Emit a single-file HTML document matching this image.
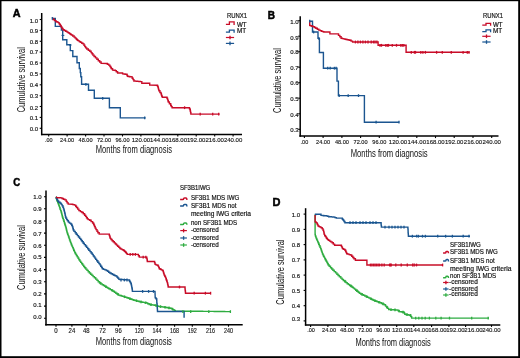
<!DOCTYPE html><html><head><meta charset="utf-8"><style>html,body{margin:0;padding:0;background:#fff;}svg{display:block;will-change:transform;}text{font-family:"Liberation Sans", sans-serif;}</style></head><body>
<svg xmlns="http://www.w3.org/2000/svg" width="520" height="358" viewBox="0 0 520 358">
<rect x="0" y="0" width="520" height="358" fill="#fff"/>
<defs><filter id="soft" x="0" y="0" width="520" height="358" filterUnits="userSpaceOnUse"><feGaussianBlur stdDeviation="0.45"/></filter></defs>
<g filter="url(#soft)">
<text x="12.8" y="16.7" font-size="10.8" text-anchor="start" font-weight="bold" fill="#000" stroke="#000" stroke-width="0.5">A</text>
<line x1="41.7" y1="13.0" x2="41.7" y2="135.2" stroke="#000" stroke-width="1.5"/>
<line x1="41.0" y1="134.5" x2="242.0" y2="134.5" stroke="#000" stroke-width="1.5"/>
<line x1="39.7" y1="128.3" x2="41.7" y2="128.3" stroke="#000" stroke-width="1.1"/>
<text x="38.0" y="130.5" font-size="6.0" text-anchor="end" font-weight="normal" fill="#111" stroke="#111" stroke-width="0.15">0.0</text>
<line x1="39.7" y1="117.4" x2="41.7" y2="117.4" stroke="#000" stroke-width="1.1"/>
<text x="38.0" y="120.0" font-size="6.0" text-anchor="end" font-weight="normal" fill="#111" stroke="#111" stroke-width="0.15">0.1</text>
<line x1="39.7" y1="106.5" x2="41.7" y2="106.5" stroke="#000" stroke-width="1.1"/>
<text x="38.0" y="110.0" font-size="6.0" text-anchor="end" font-weight="normal" fill="#111" stroke="#111" stroke-width="0.15">0.2</text>
<line x1="39.7" y1="95.7" x2="41.7" y2="95.7" stroke="#000" stroke-width="1.1"/>
<text x="38.0" y="98.2" font-size="6.0" text-anchor="end" font-weight="normal" fill="#111" stroke="#111" stroke-width="0.15">0.3</text>
<line x1="39.7" y1="84.8" x2="41.7" y2="84.8" stroke="#000" stroke-width="1.1"/>
<text x="38.0" y="86.5" font-size="6.0" text-anchor="end" font-weight="normal" fill="#111" stroke="#111" stroke-width="0.15">0.4</text>
<line x1="39.7" y1="73.9" x2="41.7" y2="73.9" stroke="#000" stroke-width="1.1"/>
<text x="38.0" y="75.9" font-size="6.0" text-anchor="end" font-weight="normal" fill="#111" stroke="#111" stroke-width="0.15">0.5</text>
<line x1="39.7" y1="63.0" x2="41.7" y2="63.0" stroke="#000" stroke-width="1.1"/>
<text x="38.0" y="65.2" font-size="6.0" text-anchor="end" font-weight="normal" fill="#111" stroke="#111" stroke-width="0.15">0.6</text>
<line x1="39.7" y1="52.1" x2="41.7" y2="52.1" stroke="#000" stroke-width="1.1"/>
<text x="38.0" y="53.9" font-size="6.0" text-anchor="end" font-weight="normal" fill="#111" stroke="#111" stroke-width="0.15">0.7</text>
<line x1="39.7" y1="41.3" x2="41.7" y2="41.3" stroke="#000" stroke-width="1.1"/>
<text x="38.0" y="43.8" font-size="6.0" text-anchor="end" font-weight="normal" fill="#111" stroke="#111" stroke-width="0.15">0.8</text>
<line x1="39.7" y1="30.4" x2="41.7" y2="30.4" stroke="#000" stroke-width="1.1"/>
<text x="38.0" y="33.0" font-size="6.0" text-anchor="end" font-weight="normal" fill="#111" stroke="#111" stroke-width="0.15">0.9</text>
<line x1="39.7" y1="19.5" x2="41.7" y2="19.5" stroke="#000" stroke-width="1.1"/>
<text x="38.0" y="22.9" font-size="6.0" text-anchor="end" font-weight="normal" fill="#111" stroke="#111" stroke-width="0.15">1.0</text>
<line x1="48.7" y1="134.5" x2="48.7" y2="136.5" stroke="#000" stroke-width="1.1"/>
<line x1="67.1" y1="134.5" x2="67.1" y2="136.5" stroke="#000" stroke-width="1.1"/>
<line x1="85.6" y1="134.5" x2="85.6" y2="136.5" stroke="#000" stroke-width="1.1"/>
<line x1="104.0" y1="134.5" x2="104.0" y2="136.5" stroke="#000" stroke-width="1.1"/>
<line x1="122.5" y1="134.5" x2="122.5" y2="136.5" stroke="#000" stroke-width="1.1"/>
<line x1="140.9" y1="134.5" x2="140.9" y2="136.5" stroke="#000" stroke-width="1.1"/>
<line x1="159.3" y1="134.5" x2="159.3" y2="136.5" stroke="#000" stroke-width="1.1"/>
<line x1="177.8" y1="134.5" x2="177.8" y2="136.5" stroke="#000" stroke-width="1.1"/>
<line x1="196.2" y1="134.5" x2="196.2" y2="136.5" stroke="#000" stroke-width="1.1"/>
<line x1="214.7" y1="134.5" x2="214.7" y2="136.5" stroke="#000" stroke-width="1.1"/>
<line x1="233.1" y1="134.5" x2="233.1" y2="136.5" stroke="#000" stroke-width="1.1"/>
<text x="48.7" y="142.2" font-size="5.6" text-anchor="middle" font-weight="normal" fill="#111" stroke="#111" stroke-width="0.12" textLength="7.6" lengthAdjust="spacingAndGlyphs">.00</text>
<text x="67.1" y="142.2" font-size="5.6" text-anchor="middle" font-weight="normal" fill="#111" stroke="#111" stroke-width="0.12" textLength="14.0" lengthAdjust="spacingAndGlyphs">24.00</text>
<text x="85.6" y="142.2" font-size="5.6" text-anchor="middle" font-weight="normal" fill="#111" stroke="#111" stroke-width="0.12" textLength="14.0" lengthAdjust="spacingAndGlyphs">48.00</text>
<text x="104.0" y="142.2" font-size="5.6" text-anchor="middle" font-weight="normal" fill="#111" stroke="#111" stroke-width="0.12" textLength="14.0" lengthAdjust="spacingAndGlyphs">72.00</text>
<text x="122.5" y="142.2" font-size="5.6" text-anchor="middle" font-weight="normal" fill="#111" stroke="#111" stroke-width="0.12" textLength="14.0" lengthAdjust="spacingAndGlyphs">96.00</text>
<text x="140.9" y="142.2" font-size="5.6" text-anchor="middle" font-weight="normal" fill="#111" stroke="#111" stroke-width="0.12" textLength="18.4" lengthAdjust="spacingAndGlyphs">120.00</text>
<text x="159.3" y="142.2" font-size="5.6" text-anchor="middle" font-weight="normal" fill="#111" stroke="#111" stroke-width="0.12" textLength="18.4" lengthAdjust="spacingAndGlyphs">144.00</text>
<text x="177.8" y="142.2" font-size="5.6" text-anchor="middle" font-weight="normal" fill="#111" stroke="#111" stroke-width="0.12" textLength="18.4" lengthAdjust="spacingAndGlyphs">168.00</text>
<text x="196.2" y="142.2" font-size="5.6" text-anchor="middle" font-weight="normal" fill="#111" stroke="#111" stroke-width="0.12" textLength="18.4" lengthAdjust="spacingAndGlyphs">192.00</text>
<text x="214.7" y="142.2" font-size="5.6" text-anchor="middle" font-weight="normal" fill="#111" stroke="#111" stroke-width="0.12" textLength="18.4" lengthAdjust="spacingAndGlyphs">216.00</text>
<text x="233.1" y="142.2" font-size="5.6" text-anchor="middle" font-weight="normal" fill="#111" stroke="#111" stroke-width="0.12" textLength="18.4" lengthAdjust="spacingAndGlyphs">240.00</text>
<text x="24.8" y="79.7" font-size="10.6" text-anchor="middle" font-weight="normal" fill="#111" textLength="65.3" lengthAdjust="spacingAndGlyphs" transform="rotate(-90 24.8 79.7)">Cumulative survival</text>
<text x="95.8" y="152.5" font-size="10.0" text-anchor="start" font-weight="normal" fill="#111" textLength="76.2" lengthAdjust="spacingAndGlyphs">Months from diagnosis</text>
<text x="226.9" y="17.8" font-size="6.7" text-anchor="start" font-weight="normal" fill="#111" stroke="#111" stroke-width="0.18" textLength="20.1" lengthAdjust="spacingAndGlyphs">RUNX1</text>
<text x="237.0" y="26.5" font-size="6.4" text-anchor="start" font-weight="normal" fill="#111" stroke="#111" stroke-width="0.18" textLength="9.6" lengthAdjust="spacingAndGlyphs">WT</text>
<text x="237.0" y="33.2" font-size="6.4" text-anchor="start" font-weight="normal" fill="#111" stroke="#111" stroke-width="0.18" textLength="9.2" lengthAdjust="spacingAndGlyphs">MT</text>
<path d="M225.9,24.3 H229.4 V21.9 H234.1 V24.9" fill="none" stroke="#c80a28" stroke-width="1.3" stroke-linejoin="miter"/>
<path d="M225.9,32.1 H229.4 V30.1 H234.1 V32.7" fill="none" stroke="#1a5590" stroke-width="1.3" stroke-linejoin="miter"/>
<line x1="225.9" y1="37.5" x2="234.1" y2="37.5" stroke="#c80a28" stroke-width="1.2"/>
<line x1="230.0" y1="35.7" x2="230.0" y2="39.3" stroke="#c80a28" stroke-width="1.3"/>
<line x1="225.9" y1="43.4" x2="234.1" y2="43.4" stroke="#1a5590" stroke-width="1.2"/>
<line x1="230.0" y1="41.6" x2="230.0" y2="45.2" stroke="#1a5590" stroke-width="1.3"/>
<path d="M52.3,18.4 H55.3 V26.4 H61.4 V30.1 H62.7 V39.7 H66.8 V44.8 H70.3 V50.6 H72.8 V56.5 H77 V62.8 H79.3 V68.5 H80.3 V72.6 H80.8 V76.8 H81.6 V84.3 H88.5 V90.2 H94.3 V98.3 H109.4 V107.8 H120.3 V117.9 H145.6" fill="none" stroke="#1a5590" stroke-width="1.4" stroke-linejoin="miter"/>
<polyline points="52.3,18.4 53.0,18.4 53.0,19.5 54.5,19.5 54.5,20.6 56.0,20.6 56.0,21.7 56.7,21.7 57.2,21.7 57.2,22.1 58.3,22.1 58.3,22.6 58.8,22.6 59.1,22.6 59.1,23.7 59.8,23.7 59.8,24.8 60.5,24.8 60.5,25.9 60.9,25.9 61.3,25.9 61.3,27.2 62.1,27.2 62.1,28.5 63.0,28.5 63.0,29.8 63.4,29.8 64.2,29.8 64.2,30.5 65.1,30.5 65.7,30.5 65.7,31.2 66.8,31.2 66.8,31.9 67.9,31.9 67.9,32.6 68.5,32.6 69.1,32.6 69.1,33.4 70.2,33.4 70.2,34.2 71.3,34.2 71.3,35.0 71.9,35.0 72.7,35.0 72.7,36.0 73.5,36.0 74.1,36.0 74.1,37.1 75.2,37.1 75.2,38.1 76.3,38.1 76.3,39.2 76.9,39.2 77.3,39.2 77.3,40.2 77.7,40.2 78.3,40.2 78.3,40.9 79.5,40.9 79.5,41.7 80.7,41.7 80.7,42.4 81.8,42.4 81.8,43.2 83.0,43.2 83.0,43.9 83.6,43.9 84.0,43.9 84.0,45.2 84.8,45.2 84.8,46.6 85.7,46.6 85.7,47.9 86.1,47.9 86.8,47.9 86.8,49.0 88.3,49.0 88.3,50.2 89.8,50.2 89.8,51.3 90.6,51.3 91.1,51.3 91.1,52.6 92.0,52.6 92.0,53.8 92.9,53.8 92.9,55.1 93.4,55.1 94.1,55.1 94.1,56.5 95.5,56.5 95.5,57.9 96.9,57.9 96.9,59.3 97.6,59.3 98.3,59.3 98.3,60.7 99.7,60.7 99.7,62.0 101.1,62.0 101.1,63.4 101.8,63.4 106.8,63.5 107.4,63.5 107.4,64.3 108.7,64.3 108.7,65.1 109.3,65.1 109.9,65.1 109.9,66.5 110.5,66.5 110.8,66.5 110.8,67.7 111.4,67.7 111.4,68.8 111.7,68.8 112.6,68.8 112.6,70.1 113.4,70.1 114.0,70.1 114.0,70.3 115.3,70.3 115.3,70.6 115.9,70.6 116.3,70.6 116.3,71.7 116.7,71.7 117.6,71.7 117.6,73.0 118.4,73.0 121.7,73.0 122.6,73.0 122.6,73.9 123.4,73.9 124.0,73.9 124.0,74.0 125.1,74.0 125.1,74.2 126.2,74.2 126.2,74.3 126.8,74.3 127.0,74.3 127.0,75.3 127.4,75.3 127.4,76.3 127.6,76.3 128.3,76.3 128.3,76.5 129.7,76.5 129.7,76.7 131.1,76.7 131.1,76.9 131.8,76.9 132.2,76.9 132.2,78.3 133.1,78.3 133.1,79.6 133.9,79.6 133.9,81.0 134.3,81.0 135.0,81.0 135.0,81.1 136.3,81.1 136.3,81.2 137.7,81.2 137.7,81.4 139.0,81.4 139.0,81.5 140.3,81.5 140.3,81.6 141.0,81.6 141.8,81.6 141.8,83.3 142.7,83.3 149.4,83.3 149.7,83.3 149.7,85.0 150.0,85.0 157.3,85.2 157.5,85.2 157.5,86.2 158.0,86.2 158.0,87.3 158.2,87.3 158.3,87.3 158.3,88.5 158.6,88.5 158.6,89.6 158.9,89.6 158.9,90.8 159.0,90.8 159.9,90.8 159.9,92.5 160.8,92.5 161.0,92.5 161.0,93.8 161.4,93.8 161.4,95.1 161.6,95.1 161.8,95.1 161.8,96.2 162.3,96.2 162.3,97.3 162.5,97.3 166.8,97.3 167.0,97.3 167.0,98.3 167.5,98.3 167.5,99.4 167.7,99.4 167.9,99.4 167.9,100.7 168.3,100.7 168.3,102.0 168.5,102.0 169.4,102.0 169.4,103.7 170.3,103.7 170.7,103.7 170.7,105.5 171.1,105.5 171.4,105.5 171.4,106.6 172.1,106.6 172.1,107.7 172.4,107.7 189.3,107.7 189.5,107.7 189.5,108.8 190.0,108.8 190.0,109.8 190.2,109.8 190.3,109.8 190.3,111.2 190.6,111.2 190.6,112.7 190.9,112.7 190.9,114.1 191.0,114.1 219.6,114.1" fill="none" stroke="#c80a28" stroke-width="1.4" stroke-linejoin="miter" stroke-linecap="butt"/>
<line x1="184.6" y1="106.3" x2="184.6" y2="109.1" stroke="#c80a28" stroke-width="1.3"/>
<line x1="200.2" y1="112.7" x2="200.2" y2="115.5" stroke="#c80a28" stroke-width="1.3"/>
<line x1="212.7" y1="112.7" x2="212.7" y2="115.5" stroke="#c80a28" stroke-width="1.3"/>
<line x1="218.7" y1="112.7" x2="218.7" y2="115.5" stroke="#c80a28" stroke-width="1.3"/>
<line x1="52.3" y1="17.0" x2="52.3" y2="19.8" stroke="#1a5590" stroke-width="1.3"/>
<line x1="85.9" y1="82.9" x2="85.9" y2="85.7" stroke="#1a5590" stroke-width="1.3"/>
<line x1="102.7" y1="96.9" x2="102.7" y2="99.7" stroke="#1a5590" stroke-width="1.3"/>
<line x1="144.7" y1="116.5" x2="144.7" y2="119.3" stroke="#1a5590" stroke-width="1.3"/>
<line x1="61.5" y1="35.4" x2="64.3" y2="35.4" stroke="#1a5590" stroke-width="1.1"/>
<line x1="69.0" y1="45.0" x2="71.6" y2="45.0" stroke="#1a5590" stroke-width="1.1"/>
<text x="267.8" y="18.9" font-size="10.0" text-anchor="start" font-weight="bold" fill="#000" stroke="#000" stroke-width="0.5">B</text>
<line x1="300.2" y1="16.2" x2="300.2" y2="136.8" stroke="#000" stroke-width="1.5"/>
<line x1="299.4" y1="136.1" x2="498.5" y2="136.1" stroke="#000" stroke-width="1.5"/>
<line x1="298.2" y1="20.7" x2="300.2" y2="20.7" stroke="#000" stroke-width="1.1"/>
<text x="298.5" y="24.0" font-size="6.0" text-anchor="end" font-weight="normal" fill="#111" stroke="#111" stroke-width="0.15">1.0</text>
<line x1="298.2" y1="36.2" x2="300.2" y2="36.2" stroke="#000" stroke-width="1.1"/>
<text x="298.5" y="40.0" font-size="6.0" text-anchor="end" font-weight="normal" fill="#111" stroke="#111" stroke-width="0.15">0.9</text>
<line x1="298.2" y1="51.7" x2="300.2" y2="51.7" stroke="#000" stroke-width="1.1"/>
<text x="298.5" y="54.3" font-size="6.0" text-anchor="end" font-weight="normal" fill="#111" stroke="#111" stroke-width="0.15">0.8</text>
<line x1="298.2" y1="67.2" x2="300.2" y2="67.2" stroke="#000" stroke-width="1.1"/>
<text x="298.5" y="70.3" font-size="6.0" text-anchor="end" font-weight="normal" fill="#111" stroke="#111" stroke-width="0.15">0.7</text>
<line x1="298.2" y1="82.7" x2="300.2" y2="82.7" stroke="#000" stroke-width="1.1"/>
<text x="298.5" y="85.4" font-size="6.0" text-anchor="end" font-weight="normal" fill="#111" stroke="#111" stroke-width="0.15">0.6</text>
<line x1="298.2" y1="98.2" x2="300.2" y2="98.2" stroke="#000" stroke-width="1.1"/>
<text x="298.5" y="100.6" font-size="6.0" text-anchor="end" font-weight="normal" fill="#111" stroke="#111" stroke-width="0.15">0.5</text>
<line x1="298.2" y1="113.8" x2="300.2" y2="113.8" stroke="#000" stroke-width="1.1"/>
<text x="298.5" y="116.7" font-size="6.0" text-anchor="end" font-weight="normal" fill="#111" stroke="#111" stroke-width="0.15">0.4</text>
<line x1="298.2" y1="129.3" x2="300.2" y2="129.3" stroke="#000" stroke-width="1.1"/>
<text x="298.5" y="131.6" font-size="6.0" text-anchor="end" font-weight="normal" fill="#111" stroke="#111" stroke-width="0.15">0.3</text>
<line x1="304.4" y1="136.1" x2="304.4" y2="138.1" stroke="#000" stroke-width="1.1"/>
<line x1="323.1" y1="136.1" x2="323.1" y2="138.1" stroke="#000" stroke-width="1.1"/>
<line x1="341.9" y1="136.1" x2="341.9" y2="138.1" stroke="#000" stroke-width="1.1"/>
<line x1="360.6" y1="136.1" x2="360.6" y2="138.1" stroke="#000" stroke-width="1.1"/>
<line x1="379.3" y1="136.1" x2="379.3" y2="138.1" stroke="#000" stroke-width="1.1"/>
<line x1="398.0" y1="136.1" x2="398.0" y2="138.1" stroke="#000" stroke-width="1.1"/>
<line x1="416.8" y1="136.1" x2="416.8" y2="138.1" stroke="#000" stroke-width="1.1"/>
<line x1="435.5" y1="136.1" x2="435.5" y2="138.1" stroke="#000" stroke-width="1.1"/>
<line x1="454.2" y1="136.1" x2="454.2" y2="138.1" stroke="#000" stroke-width="1.1"/>
<line x1="473.0" y1="136.1" x2="473.0" y2="138.1" stroke="#000" stroke-width="1.1"/>
<line x1="491.7" y1="136.1" x2="491.7" y2="138.1" stroke="#000" stroke-width="1.1"/>
<text x="304.4" y="144.4" font-size="5.6" text-anchor="middle" font-weight="normal" fill="#111" stroke="#111" stroke-width="0.12" textLength="7.6" lengthAdjust="spacingAndGlyphs">.00</text>
<text x="323.1" y="144.4" font-size="5.6" text-anchor="middle" font-weight="normal" fill="#111" stroke="#111" stroke-width="0.12" textLength="14.0" lengthAdjust="spacingAndGlyphs">24.00</text>
<text x="341.9" y="144.4" font-size="5.6" text-anchor="middle" font-weight="normal" fill="#111" stroke="#111" stroke-width="0.12" textLength="14.0" lengthAdjust="spacingAndGlyphs">48.00</text>
<text x="360.6" y="144.4" font-size="5.6" text-anchor="middle" font-weight="normal" fill="#111" stroke="#111" stroke-width="0.12" textLength="14.0" lengthAdjust="spacingAndGlyphs">72.00</text>
<text x="379.3" y="144.4" font-size="5.6" text-anchor="middle" font-weight="normal" fill="#111" stroke="#111" stroke-width="0.12" textLength="14.0" lengthAdjust="spacingAndGlyphs">96.00</text>
<text x="398.0" y="144.4" font-size="5.6" text-anchor="middle" font-weight="normal" fill="#111" stroke="#111" stroke-width="0.12" textLength="18.4" lengthAdjust="spacingAndGlyphs">120.00</text>
<text x="416.8" y="144.4" font-size="5.6" text-anchor="middle" font-weight="normal" fill="#111" stroke="#111" stroke-width="0.12" textLength="18.4" lengthAdjust="spacingAndGlyphs">144.00</text>
<text x="435.5" y="144.4" font-size="5.6" text-anchor="middle" font-weight="normal" fill="#111" stroke="#111" stroke-width="0.12" textLength="18.4" lengthAdjust="spacingAndGlyphs">168.00</text>
<text x="454.2" y="144.4" font-size="5.6" text-anchor="middle" font-weight="normal" fill="#111" stroke="#111" stroke-width="0.12" textLength="18.4" lengthAdjust="spacingAndGlyphs">192.00</text>
<text x="473.0" y="144.4" font-size="5.6" text-anchor="middle" font-weight="normal" fill="#111" stroke="#111" stroke-width="0.12" textLength="18.4" lengthAdjust="spacingAndGlyphs">216.00</text>
<text x="491.7" y="144.4" font-size="5.6" text-anchor="middle" font-weight="normal" fill="#111" stroke="#111" stroke-width="0.12" textLength="18.4" lengthAdjust="spacingAndGlyphs">240.00</text>
<text x="281.0" y="80.5" font-size="10.6" text-anchor="middle" font-weight="normal" fill="#111" textLength="64.8" lengthAdjust="spacingAndGlyphs" transform="rotate(-90 281.0 80.5)">Cumulative survival</text>
<text x="350.7" y="157.2" font-size="10.0" text-anchor="start" font-weight="normal" fill="#111" textLength="77.0" lengthAdjust="spacingAndGlyphs">Months from diagnosis</text>
<text x="483.0" y="18.4" font-size="6.7" text-anchor="start" font-weight="normal" fill="#111" stroke="#111" stroke-width="0.18" textLength="19.9" lengthAdjust="spacingAndGlyphs">RUNX1</text>
<text x="492.9" y="26.6" font-size="6.4" text-anchor="start" font-weight="normal" fill="#111" stroke="#111" stroke-width="0.18" textLength="9.5" lengthAdjust="spacingAndGlyphs">WT</text>
<text x="492.9" y="32.8" font-size="6.4" text-anchor="start" font-weight="normal" fill="#111" stroke="#111" stroke-width="0.18" textLength="9.2" lengthAdjust="spacingAndGlyphs">MT</text>
<path d="M482.3,25.1 H486.0 V23.3 H490.6 V25.7" fill="none" stroke="#c80a28" stroke-width="1.3" stroke-linejoin="miter"/>
<path d="M482.3,31.6 H486.0 V29.8 H490.6 V32.2" fill="none" stroke="#1a5590" stroke-width="1.3" stroke-linejoin="miter"/>
<line x1="482.3" y1="36.3" x2="490.6" y2="36.3" stroke="#c80a28" stroke-width="1.2"/>
<line x1="486.5" y1="34.5" x2="486.5" y2="38.1" stroke="#c80a28" stroke-width="1.3"/>
<line x1="482.3" y1="42.0" x2="490.6" y2="42.0" stroke="#1a5590" stroke-width="1.2"/>
<line x1="486.5" y1="40.2" x2="486.5" y2="43.8" stroke="#1a5590" stroke-width="1.3"/>
<path d="M309.7,21.2 H312.5 V32.0 H318.0 V38.4 H319.4 V52.5 H323.4 V68.2 H337 V81.1 H338.4 V95.6 H364.4 V122.2 H399.2" fill="none" stroke="#1a5590" stroke-width="1.4" stroke-linejoin="miter"/>
<polyline points="309.7,21.5 309.7,25.4 310.4,25.4 310.4,25.8 311.8,25.8 311.8,26.3 313.1,26.3 313.1,26.7 313.8,26.7 314.5,26.7 314.5,27.5 315.8,27.5 315.8,28.3 316.5,28.3 317.3,28.3 317.3,29.2 318.8,29.2 318.8,30.1 319.6,30.1 320.2,30.1 320.2,30.6 321.4,30.6 321.4,31.2 322.0,31.2 322.6,31.2 322.6,31.6 323.8,31.6 323.8,32.0 324.4,32.0 329.2,32.0 329.9,32.0 329.9,33.9 330.7,33.9 337.9,33.9 338.5,33.9 338.5,35.4 339.8,35.4 339.8,36.8 341.1,36.8 341.1,38.3 341.7,38.3 342.4,38.3 342.4,38.6 343.6,38.6 343.6,38.9 345.0,38.9 345.0,39.2 345.6,39.2 346.2,39.2 346.2,39.5 347.4,39.5 347.4,39.7 348.6,39.7 348.6,40.0 349.8,40.0 349.8,40.2 350.4,40.2 351.1,40.2 351.1,41.1 352.6,41.1 352.6,42.0 353.3,42.0 378.1,42.0 378.1,45.3 406.1,45.3 406.1,52.3 469.6,52.3" fill="none" stroke="#c80a28" stroke-width="1.4" stroke-linejoin="miter" stroke-linecap="butt"/>
<line x1="309.7" y1="19.8" x2="309.7" y2="22.6" stroke="#1a5590" stroke-width="1.3"/>
<line x1="313.6" y1="30.6" x2="313.6" y2="33.4" stroke="#1a5590" stroke-width="1.3"/>
<line x1="318.8" y1="37.0" x2="318.8" y2="39.8" stroke="#1a5590" stroke-width="1.3"/>
<line x1="327.7" y1="66.8" x2="327.7" y2="69.6" stroke="#1a5590" stroke-width="1.3"/>
<line x1="330.2" y1="66.8" x2="330.2" y2="69.6" stroke="#1a5590" stroke-width="1.3"/>
<line x1="334.4" y1="66.8" x2="334.4" y2="69.6" stroke="#1a5590" stroke-width="1.3"/>
<line x1="336.1" y1="66.8" x2="336.1" y2="69.6" stroke="#1a5590" stroke-width="1.3"/>
<line x1="339.2" y1="94.2" x2="339.2" y2="97.0" stroke="#1a5590" stroke-width="1.3"/>
<line x1="348.2" y1="94.2" x2="348.2" y2="97.0" stroke="#1a5590" stroke-width="1.3"/>
<line x1="358.5" y1="94.2" x2="358.5" y2="97.0" stroke="#1a5590" stroke-width="1.3"/>
<line x1="376.1" y1="120.8" x2="376.1" y2="123.6" stroke="#1a5590" stroke-width="1.3"/>
<line x1="399.0" y1="120.8" x2="399.0" y2="123.6" stroke="#1a5590" stroke-width="1.3"/>
<line x1="355.4" y1="40.6" x2="355.4" y2="43.4" stroke="#c80a28" stroke-width="1.3"/>
<line x1="357.9" y1="40.6" x2="357.9" y2="43.4" stroke="#c80a28" stroke-width="1.3"/>
<line x1="360.4" y1="40.6" x2="360.4" y2="43.4" stroke="#c80a28" stroke-width="1.3"/>
<line x1="362.9" y1="40.6" x2="362.9" y2="43.4" stroke="#c80a28" stroke-width="1.3"/>
<line x1="365.4" y1="40.6" x2="365.4" y2="43.4" stroke="#c80a28" stroke-width="1.3"/>
<line x1="368.0" y1="40.6" x2="368.0" y2="43.4" stroke="#c80a28" stroke-width="1.3"/>
<line x1="371.2" y1="40.6" x2="371.2" y2="43.4" stroke="#c80a28" stroke-width="1.3"/>
<line x1="373.5" y1="40.6" x2="373.5" y2="43.4" stroke="#c80a28" stroke-width="1.3"/>
<line x1="375.0" y1="40.6" x2="375.0" y2="43.4" stroke="#c80a28" stroke-width="1.3"/>
<line x1="376.9" y1="40.6" x2="376.9" y2="43.4" stroke="#c80a28" stroke-width="1.3"/>
<line x1="380.0" y1="43.9" x2="380.0" y2="46.7" stroke="#c80a28" stroke-width="1.3"/>
<line x1="381.5" y1="43.9" x2="381.5" y2="46.7" stroke="#c80a28" stroke-width="1.3"/>
<line x1="385.8" y1="43.9" x2="385.8" y2="46.7" stroke="#c80a28" stroke-width="1.3"/>
<line x1="387.3" y1="43.9" x2="387.3" y2="46.7" stroke="#c80a28" stroke-width="1.3"/>
<line x1="388.5" y1="43.9" x2="388.5" y2="46.7" stroke="#c80a28" stroke-width="1.3"/>
<line x1="392.3" y1="43.9" x2="392.3" y2="46.7" stroke="#c80a28" stroke-width="1.3"/>
<line x1="396.5" y1="43.9" x2="396.5" y2="46.7" stroke="#c80a28" stroke-width="1.3"/>
<line x1="400.8" y1="43.9" x2="400.8" y2="46.7" stroke="#c80a28" stroke-width="1.3"/>
<line x1="402.3" y1="43.9" x2="402.3" y2="46.7" stroke="#c80a28" stroke-width="1.3"/>
<line x1="403.8" y1="43.9" x2="403.8" y2="46.7" stroke="#c80a28" stroke-width="1.3"/>
<line x1="411.3" y1="50.9" x2="411.3" y2="53.7" stroke="#c80a28" stroke-width="1.3"/>
<line x1="414.4" y1="50.9" x2="414.4" y2="53.7" stroke="#c80a28" stroke-width="1.3"/>
<line x1="415.5" y1="50.9" x2="415.5" y2="53.7" stroke="#c80a28" stroke-width="1.3"/>
<line x1="420.8" y1="50.9" x2="420.8" y2="53.7" stroke="#c80a28" stroke-width="1.3"/>
<line x1="422.9" y1="50.9" x2="422.9" y2="53.7" stroke="#c80a28" stroke-width="1.3"/>
<line x1="425.4" y1="50.9" x2="425.4" y2="53.7" stroke="#c80a28" stroke-width="1.3"/>
<line x1="436.6" y1="50.9" x2="436.6" y2="53.7" stroke="#c80a28" stroke-width="1.3"/>
<line x1="442.3" y1="50.9" x2="442.3" y2="53.7" stroke="#c80a28" stroke-width="1.3"/>
<line x1="451.3" y1="50.9" x2="451.3" y2="53.7" stroke="#c80a28" stroke-width="1.3"/>
<line x1="463.1" y1="50.9" x2="463.1" y2="53.7" stroke="#c80a28" stroke-width="1.3"/>
<line x1="467.3" y1="50.9" x2="467.3" y2="53.7" stroke="#c80a28" stroke-width="1.3"/>
<line x1="469.0" y1="50.9" x2="469.0" y2="53.7" stroke="#c80a28" stroke-width="1.3"/>
<text x="13.2" y="185.9" font-size="11.0" text-anchor="start" font-weight="bold" fill="#000" stroke="#000" stroke-width="0.5" textLength="7.0" lengthAdjust="spacingAndGlyphs">C</text>
<line x1="46.0" y1="190.6" x2="46.0" y2="325.4" stroke="#000" stroke-width="1.5"/>
<line x1="45.2" y1="324.7" x2="242.7" y2="324.7" stroke="#000" stroke-width="1.5"/>
<line x1="44.0" y1="318.2" x2="46.0" y2="318.2" stroke="#000" stroke-width="1.1"/>
<text x="41.6" y="319.4" font-size="6.0" text-anchor="end" font-weight="normal" fill="#111" stroke="#111" stroke-width="0.15">0.0</text>
<line x1="44.0" y1="306.1" x2="46.0" y2="306.1" stroke="#000" stroke-width="1.1"/>
<text x="41.6" y="307.0" font-size="6.0" text-anchor="end" font-weight="normal" fill="#111" stroke="#111" stroke-width="0.15">0.1</text>
<line x1="44.0" y1="293.9" x2="46.0" y2="293.9" stroke="#000" stroke-width="1.1"/>
<text x="41.6" y="295.8" font-size="6.0" text-anchor="end" font-weight="normal" fill="#111" stroke="#111" stroke-width="0.15">0.2</text>
<line x1="44.0" y1="281.8" x2="46.0" y2="281.8" stroke="#000" stroke-width="1.1"/>
<text x="41.6" y="283.7" font-size="6.0" text-anchor="end" font-weight="normal" fill="#111" stroke="#111" stroke-width="0.15">0.3</text>
<line x1="44.0" y1="269.6" x2="46.0" y2="269.6" stroke="#000" stroke-width="1.1"/>
<text x="41.6" y="272.3" font-size="6.0" text-anchor="end" font-weight="normal" fill="#111" stroke="#111" stroke-width="0.15">0.4</text>
<line x1="44.0" y1="257.4" x2="46.0" y2="257.4" stroke="#000" stroke-width="1.1"/>
<text x="41.6" y="259.4" font-size="6.0" text-anchor="end" font-weight="normal" fill="#111" stroke="#111" stroke-width="0.15">0.5</text>
<line x1="44.0" y1="245.3" x2="46.0" y2="245.3" stroke="#000" stroke-width="1.1"/>
<text x="41.6" y="248.4" font-size="6.0" text-anchor="end" font-weight="normal" fill="#111" stroke="#111" stroke-width="0.15">0.6</text>
<line x1="44.0" y1="233.1" x2="46.0" y2="233.1" stroke="#000" stroke-width="1.1"/>
<text x="41.6" y="236.0" font-size="6.0" text-anchor="end" font-weight="normal" fill="#111" stroke="#111" stroke-width="0.15">0.7</text>
<line x1="44.0" y1="221.0" x2="46.0" y2="221.0" stroke="#000" stroke-width="1.1"/>
<text x="41.6" y="223.5" font-size="6.0" text-anchor="end" font-weight="normal" fill="#111" stroke="#111" stroke-width="0.15">0.8</text>
<line x1="44.0" y1="208.8" x2="46.0" y2="208.8" stroke="#000" stroke-width="1.1"/>
<text x="41.6" y="211.3" font-size="6.0" text-anchor="end" font-weight="normal" fill="#111" stroke="#111" stroke-width="0.15">0.9</text>
<line x1="44.0" y1="196.7" x2="46.0" y2="196.7" stroke="#000" stroke-width="1.1"/>
<text x="41.6" y="199.0" font-size="6.0" text-anchor="end" font-weight="normal" fill="#111" stroke="#111" stroke-width="0.15">1.0</text>
<line x1="56.0" y1="324.7" x2="56.0" y2="326.7" stroke="#000" stroke-width="1.1"/>
<line x1="71.9" y1="324.7" x2="71.9" y2="326.7" stroke="#000" stroke-width="1.1"/>
<line x1="86.3" y1="324.7" x2="86.3" y2="326.7" stroke="#000" stroke-width="1.1"/>
<line x1="102.5" y1="324.7" x2="102.5" y2="326.7" stroke="#000" stroke-width="1.1"/>
<line x1="118.4" y1="324.7" x2="118.4" y2="326.7" stroke="#000" stroke-width="1.1"/>
<line x1="139.3" y1="324.7" x2="139.3" y2="326.7" stroke="#000" stroke-width="1.1"/>
<line x1="157.1" y1="324.7" x2="157.1" y2="326.7" stroke="#000" stroke-width="1.1"/>
<line x1="174.6" y1="324.7" x2="174.6" y2="326.7" stroke="#000" stroke-width="1.1"/>
<line x1="192.3" y1="324.7" x2="192.3" y2="326.7" stroke="#000" stroke-width="1.1"/>
<line x1="210.4" y1="324.7" x2="210.4" y2="326.7" stroke="#000" stroke-width="1.1"/>
<line x1="228.5" y1="324.7" x2="228.5" y2="326.7" stroke="#000" stroke-width="1.1"/>
<text x="56.0" y="332.9" font-size="6.3" text-anchor="middle" font-weight="normal" fill="#111" stroke="#111" stroke-width="0.12" textLength="3.4" lengthAdjust="spacingAndGlyphs">0</text>
<text x="71.9" y="332.9" font-size="6.3" text-anchor="middle" font-weight="normal" fill="#111" stroke="#111" stroke-width="0.12" textLength="6.6" lengthAdjust="spacingAndGlyphs">24</text>
<text x="86.3" y="332.9" font-size="6.3" text-anchor="middle" font-weight="normal" fill="#111" stroke="#111" stroke-width="0.12" textLength="6.6" lengthAdjust="spacingAndGlyphs">48</text>
<text x="102.5" y="332.9" font-size="6.3" text-anchor="middle" font-weight="normal" fill="#111" stroke="#111" stroke-width="0.12" textLength="6.6" lengthAdjust="spacingAndGlyphs">72</text>
<text x="118.4" y="332.9" font-size="6.3" text-anchor="middle" font-weight="normal" fill="#111" stroke="#111" stroke-width="0.12" textLength="6.6" lengthAdjust="spacingAndGlyphs">96</text>
<text x="139.3" y="332.9" font-size="6.3" text-anchor="middle" font-weight="normal" fill="#111" stroke="#111" stroke-width="0.12" textLength="9.0" lengthAdjust="spacingAndGlyphs">120</text>
<text x="157.1" y="332.9" font-size="6.3" text-anchor="middle" font-weight="normal" fill="#111" stroke="#111" stroke-width="0.12" textLength="9.0" lengthAdjust="spacingAndGlyphs">144</text>
<text x="174.6" y="332.9" font-size="6.3" text-anchor="middle" font-weight="normal" fill="#111" stroke="#111" stroke-width="0.12" textLength="9.0" lengthAdjust="spacingAndGlyphs">168</text>
<text x="192.3" y="332.9" font-size="6.3" text-anchor="middle" font-weight="normal" fill="#111" stroke="#111" stroke-width="0.12" textLength="9.0" lengthAdjust="spacingAndGlyphs">192</text>
<text x="210.4" y="332.9" font-size="6.3" text-anchor="middle" font-weight="normal" fill="#111" stroke="#111" stroke-width="0.12" textLength="9.0" lengthAdjust="spacingAndGlyphs">216</text>
<text x="228.5" y="332.9" font-size="6.3" text-anchor="middle" font-weight="normal" fill="#111" stroke="#111" stroke-width="0.12" textLength="9.0" lengthAdjust="spacingAndGlyphs">240</text>
<text x="25.4" y="257.5" font-size="10.6" text-anchor="middle" font-weight="normal" fill="#111" textLength="64.8" lengthAdjust="spacingAndGlyphs" transform="rotate(-90 25.4 257.5)">Cumulative survival</text>
<text x="95.8" y="344.6" font-size="10.0" text-anchor="start" font-weight="normal" fill="#111" textLength="76.1" lengthAdjust="spacingAndGlyphs">Months from diagnosis</text>
<text x="179.9" y="189.7" font-size="6.7" text-anchor="start" font-weight="normal" fill="#111" stroke="#111" stroke-width="0.18" textLength="30.4" lengthAdjust="spacingAndGlyphs">SF3B1IWG</text>
<text x="190.9" y="200.0" font-size="6.7" text-anchor="start" font-weight="normal" fill="#111" stroke="#111" stroke-width="0.18" textLength="48.4" lengthAdjust="spacingAndGlyphs">SF3B1 MDS IWG</text>
<text x="190.9" y="207.9" font-size="6.7" text-anchor="start" font-weight="normal" fill="#111" stroke="#111" stroke-width="0.18" textLength="45.5" lengthAdjust="spacingAndGlyphs">SF3B1 MDS not</text>
<text x="190.9" y="216.4" font-size="6.7" text-anchor="start" font-weight="normal" fill="#111" stroke="#111" stroke-width="0.18" textLength="60.0" lengthAdjust="spacingAndGlyphs">meeting IWG criteria</text>
<text x="190.9" y="225.1" font-size="6.7" text-anchor="start" font-weight="normal" fill="#111" stroke="#111" stroke-width="0.18" textLength="46.3" lengthAdjust="spacingAndGlyphs">non SF3B1 MDS</text>
<text x="190.9" y="232.2" font-size="6.7" text-anchor="start" font-weight="normal" fill="#111" stroke="#111" stroke-width="0.18" textLength="27.8" lengthAdjust="spacingAndGlyphs">-censored</text>
<text x="190.9" y="239.7" font-size="6.7" text-anchor="start" font-weight="normal" fill="#111" stroke="#111" stroke-width="0.18" textLength="27.8" lengthAdjust="spacingAndGlyphs">-censored</text>
<text x="190.9" y="246.5" font-size="6.7" text-anchor="start" font-weight="normal" fill="#111" stroke="#111" stroke-width="0.18" textLength="27.8" lengthAdjust="spacingAndGlyphs">-censored</text>
<path d="M180.1,199.6 H182.7 Q183.6,199.6 183.6,198.8 Q183.6,198.0 184.5,198.0 H186.2 Q186.9,198.0 186.9,199.9" fill="none" stroke="#c80a28" stroke-width="1.5" stroke-linejoin="miter"/>
<path d="M180.1,206.1 H182.7 Q183.6,206.1 183.6,205.3 Q183.6,204.5 184.5,204.5 H186.2 Q186.9,204.5 186.9,206.4" fill="none" stroke="#1a5590" stroke-width="1.5" stroke-linejoin="miter"/>
<path d="M180.1,224.5 H182.7 Q183.6,224.5 183.6,223.7 Q183.6,222.9 184.5,222.9 H186.2 Q186.9,222.9 186.9,224.8" fill="none" stroke="#2fac40" stroke-width="1.5" stroke-linejoin="miter"/>
<line x1="180.3" y1="230.6" x2="186.9" y2="230.6" stroke="#c80a28" stroke-width="1.2"/>
<line x1="183.6" y1="228.8" x2="183.6" y2="232.4" stroke="#c80a28" stroke-width="1.3"/>
<line x1="180.3" y1="238.0" x2="186.9" y2="238.0" stroke="#1a5590" stroke-width="1.2"/>
<line x1="183.6" y1="236.2" x2="183.6" y2="239.8" stroke="#1a5590" stroke-width="1.3"/>
<line x1="180.3" y1="245.0" x2="186.9" y2="245.0" stroke="#2fac40" stroke-width="1.2"/>
<line x1="183.6" y1="243.2" x2="183.6" y2="246.8" stroke="#2fac40" stroke-width="1.3"/>
<polyline points="55.9,197.3 56.2,197.3 56.2,198.6 56.7,198.6 56.7,200.0 57.2,200.0 57.2,201.3 57.5,201.3 57.7,201.3 57.7,202.6 58.2,202.6 58.2,203.9 58.7,203.9 58.7,205.1 59.2,205.1 59.2,206.4 59.4,206.4 59.6,206.4 59.6,207.8 60.1,207.8 60.1,209.2 60.6,209.2 60.6,210.6 61.1,210.6 61.1,212.0 61.3,212.0 61.5,212.0 61.5,213.2 61.8,213.2 61.8,214.5 62.1,214.5 62.1,215.8 62.4,215.8 62.4,217.0 62.6,217.0 62.8,217.0 62.8,218.4 63.3,218.4 63.3,219.8 63.8,219.8 63.8,221.3 64.3,221.3 64.3,222.7 64.5,222.7 64.7,222.7 64.7,224.0 65.1,224.0 65.1,225.2 65.5,225.2 65.5,226.5 65.7,226.5 65.9,226.5 65.9,227.8 66.2,227.8 66.2,229.0 66.5,229.0 66.5,230.2 66.8,230.2 66.8,231.5 66.9,231.5 67.1,231.5 67.1,232.9 67.6,232.9 67.6,234.3 68.1,234.3 68.1,235.6 68.6,235.6 68.6,237.0 69.1,237.0 69.1,238.4 69.3,238.4 69.5,238.4 69.5,239.7 70.0,239.7 70.0,241.1 70.5,241.1 70.5,242.4 71.0,242.4 71.0,243.8 71.5,243.8 71.5,245.1 71.8,245.1 72.1,245.1 72.1,246.4 72.6,246.4 72.6,247.6 73.2,247.6 73.2,248.9 73.7,248.9 73.7,250.2 74.3,250.2 74.3,251.4 74.8,251.4 74.8,252.7 75.1,252.7 75.5,252.7 75.5,254.1 76.4,254.1 76.4,255.5 77.2,255.5 77.2,256.9 78.1,256.9 78.1,258.3 78.9,258.3 78.9,259.7 79.8,259.7 79.8,261.1 80.2,261.1 80.7,261.1 80.7,262.4 81.7,262.4 81.7,263.8 82.7,263.8 82.7,265.1 83.7,265.1 83.7,266.5 84.7,266.5 84.7,267.8 85.2,267.8 85.8,267.8 85.8,269.1 87.0,269.1 87.0,270.4 88.2,270.4 88.2,271.7 89.4,271.7 89.4,273.0 90.0,273.0 90.6,273.0 90.6,274.2 91.9,274.2 91.9,275.4 93.1,275.4 93.1,276.6 94.4,276.6 94.4,277.8 95.0,277.8 95.7,277.8 95.7,279.1 97.0,279.1 97.0,280.4 98.2,280.4 98.2,281.7 99.5,281.7 99.5,283.0 100.2,283.0 100.9,283.0 100.9,283.9 102.2,283.9 102.2,284.7 103.5,284.7 103.5,285.5 104.8,285.5 104.8,286.4 105.4,286.4 106.1,286.4 106.1,287.2 107.5,287.2 107.5,288.0 108.8,288.0 108.8,288.8 110.2,288.8 110.2,289.6 111.6,289.6 111.6,290.4 112.3,290.4 113.0,290.4 113.0,291.3 114.4,291.3 114.4,292.3 115.8,292.3 115.8,293.2 117.1,293.2 117.1,294.2 118.5,294.2 118.5,295.1 119.2,295.1 119.9,295.1 119.9,295.5 121.3,295.5 121.3,296.0 122.7,296.0 122.7,296.4 124.0,296.4 124.0,296.9 125.4,296.9 125.4,297.3 126.1,297.3 126.8,297.3 126.8,297.8 128.2,297.8 128.2,298.3 129.6,298.3 129.6,298.8 131.0,298.8 131.0,299.3 132.4,299.3 132.4,299.8 133.1,299.8 133.8,299.8 133.8,300.2 135.2,300.2 135.2,300.6 136.6,300.6 136.6,300.9 137.9,300.9 137.9,301.3 139.3,301.3 139.3,301.7 140.0,301.7 140.7,301.7 140.7,301.9 142.1,301.9 142.1,302.2 143.4,302.2 143.4,302.4 144.8,302.4 144.8,302.7 146.2,302.7 146.2,302.9 146.9,302.9 147.7,302.9 147.7,303.7 149.2,303.7 149.2,304.5 150.0,304.5 150.7,304.5 150.7,304.7 151.9,304.7 151.9,304.9 153.2,304.9 153.2,305.0 154.5,305.0 154.5,305.2 155.2,305.2 155.8,305.2 155.8,305.6 156.9,305.6 156.9,306.0 158.1,306.0 158.1,306.4 158.7,306.4 159.3,306.4 159.3,306.5 160.6,306.5 160.6,306.7 161.9,306.7 161.9,306.9 163.2,306.9 163.2,307.0 163.8,307.0 164.5,307.0 164.5,307.2 165.9,307.2 165.9,307.5 167.3,307.5 167.3,307.7 168.7,307.7 168.7,308.0 170.1,308.0 170.1,308.2 170.8,308.2 171.5,308.2 171.5,308.9 172.8,308.9 172.8,309.6 174.1,309.6 174.1,310.4 175.3,310.4 175.3,311.1 176.0,311.1 176.6,311.1 176.6,311.1 177.9,311.1 177.9,311.1 179.2,311.1 179.2,311.1 180.5,311.1 180.5,311.1 181.8,311.1 181.8,311.2 183.1,311.2 183.1,311.2 184.4,311.2 184.4,311.2 185.7,311.2 185.7,311.2 187.0,311.2 187.0,311.2 188.3,311.2 188.3,311.2 189.6,311.2 189.6,311.2 190.9,311.2 190.9,311.2 192.2,311.2 192.2,311.3 193.5,311.3 193.5,311.3 194.8,311.3 194.8,311.3 196.1,311.3 196.1,311.3 197.4,311.3 197.4,311.3 198.7,311.3 198.7,311.3 200.0,311.3 200.0,311.3 201.3,311.3 201.3,311.3 202.6,311.3 202.6,311.4 203.8,311.4 203.8,311.4 205.1,311.4 205.1,311.4 206.4,311.4 206.4,311.4 207.7,311.4 207.7,311.4 209.0,311.4 209.0,311.4 210.3,311.4 210.3,311.4 211.6,311.4 211.6,311.4 212.9,311.4 212.9,311.4 214.2,311.4 214.2,311.5 215.5,311.5 215.5,311.5 216.8,311.5 216.8,311.5 218.1,311.5 218.1,311.5 219.4,311.5 219.4,311.5 220.7,311.5 220.7,311.5 222.0,311.5 222.0,311.5 223.3,311.5 223.3,311.5 224.6,311.5 224.6,311.6 225.9,311.6 225.9,311.6 227.2,311.6 227.2,311.6 228.5,311.6 228.5,311.6 229.8,311.6 229.8,311.6 230.4,311.6" fill="none" stroke="#2fac40" stroke-width="1.4" stroke-linejoin="miter" stroke-linecap="butt"/>
<polyline points="55.9,197.3 56.1,197.3 56.1,197.8 56.4,197.8 56.7,197.8 56.7,199.0 57.3,199.0 57.3,200.1 57.9,200.1 57.9,201.3 58.2,201.3 58.8,201.3 58.8,202.2 60.1,202.2 60.1,203.2 60.7,203.2 61.2,203.2 61.2,204.4 62.1,204.4 62.1,205.7 62.6,205.7 62.9,205.7 62.9,207.3 63.5,207.3 63.5,208.9 63.8,208.9 64.0,208.9 64.0,210.2 64.3,210.2 64.3,211.4 64.6,211.4 64.6,212.7 64.9,212.7 64.9,213.9 65.1,213.9 65.2,213.9 65.2,215.4 65.5,215.4 65.5,217.0 65.7,217.0 66.0,217.0 66.0,218.3 66.7,218.3 66.7,219.6 67.0,219.6 67.5,219.6 67.5,220.8 68.4,220.8 68.4,222.1 68.9,222.1 69.5,222.1 69.5,223.1 70.8,223.1 70.8,224.0 71.4,224.0 71.7,224.0 71.7,225.2 72.3,225.2 72.3,226.5 72.6,226.5 72.8,226.5 72.8,227.7 73.0,227.7 73.0,228.8 73.3,228.8 73.3,230.0 73.5,230.0 74.0,230.0 74.0,231.4 75.2,231.4 75.2,232.8 76.2,232.8 76.2,234.2 76.8,234.2 77.4,234.2 77.4,235.6 78.5,235.6 78.5,237.0 79.6,237.0 79.6,238.4 80.2,238.4 80.6,238.4 80.6,239.5 81.5,239.5 81.5,240.7 82.3,240.7 82.3,241.8 82.7,241.8 83.2,241.8 83.2,243.2 84.3,243.2 84.3,244.6 85.5,244.6 85.5,246.0 86.0,246.0 86.6,246.0 86.6,247.4 87.7,247.4 87.7,248.8 88.8,248.8 88.8,250.2 89.4,250.2 90.0,250.2 90.0,251.6 91.1,251.6 91.1,253.0 92.2,253.0 92.2,254.4 92.8,254.4 93.2,254.4 93.2,255.7 94.0,255.7 94.0,256.9 94.9,256.9 94.9,258.1 95.7,258.1 95.7,259.4 96.1,259.4 96.7,259.4 96.7,260.8 97.8,260.8 97.8,262.2 98.9,262.2 98.9,263.6 99.5,263.6 99.9,263.6 99.9,264.9 100.7,264.9 100.7,266.2 101.6,266.2 101.6,267.5 102.4,267.5 102.4,268.8 102.8,268.8 103.5,268.8 103.5,269.4 104.9,269.4 104.9,269.9 106.3,269.9 106.3,270.5 107.0,270.5 107.6,270.5 107.6,271.3 108.7,271.3 108.7,272.2 109.8,272.2 109.8,273.0 110.4,273.0 111.1,273.0 111.1,273.8 112.5,273.8 112.5,274.5 113.9,274.5 113.9,275.3 114.6,275.3 115.1,275.3 115.1,275.7 116.1,275.7 116.1,276.1 116.6,276.1 117.1,276.1 117.1,277.2 118.0,277.2 118.0,278.3 118.9,278.3 118.9,279.4 119.4,279.4 120.0,279.4 120.0,279.5 121.2,279.5 121.2,279.5 122.5,279.5 122.5,279.6 123.7,279.6 123.7,279.7 124.9,279.7 124.9,279.8 126.1,279.8 126.1,279.9 127.4,279.9 127.4,279.9 128.6,279.9 128.6,280.0 129.2,280.0 129.5,280.0 129.5,281.3 130.2,281.3 130.2,282.5 130.9,282.5 130.9,283.8 131.2,283.8 131.3,283.8 131.3,285.1 131.6,285.1 131.6,286.4 131.8,286.4 131.8,287.7 132.1,287.7 132.1,289.0 132.2,289.0 132.3,289.0 132.3,290.2 132.4,290.2 132.4,291.4 132.5,291.4 155.0,291.4 155.2,297.7 155.9,297.7 155.9,298.7 156.6,298.7 156.7,298.7 156.7,300.0 156.8,300.0 156.8,301.2 156.8,301.2 156.8,302.5 156.9,302.5 156.9,303.8 157.0,303.8 157.1,303.8 157.1,305.1 157.2,305.1 157.2,306.4 157.2,306.4 157.2,307.6 157.3,307.6 157.3,308.9 157.4,308.9 157.4,310.2 157.5,310.2 157.5,311.5 157.6,311.5 184.1,311.5 184.1,317.8" fill="none" stroke="#1a5590" stroke-width="1.4" stroke-linejoin="miter" stroke-linecap="butt"/>
<polyline points="55.9,197.3 57.5,197.6 58.1,197.6 58.1,197.7 59.4,197.7 59.4,197.8 60.7,197.8 60.7,197.9 61.3,197.9 62.0,197.9 62.0,198.5 62.6,198.5 63.4,198.5 63.4,199.2 64.9,199.2 64.9,199.9 65.7,199.9 66.2,199.9 66.2,201.4 67.1,201.4 67.1,202.9 67.6,202.9 68.2,202.9 68.2,204.1 68.9,204.1 72.0,204.2 72.8,204.2 72.8,204.6 74.4,204.6 74.4,205.1 75.2,205.1 75.7,205.1 75.7,206.3 76.5,206.3 76.5,207.5 77.0,207.5 77.7,207.5 77.7,209.1 78.9,209.1 78.9,210.6 79.6,210.6 80.4,210.6 80.4,211.6 81.9,211.6 81.9,212.5 82.7,212.5 83.3,212.5 83.3,213.8 84.6,213.8 84.6,215.2 85.2,215.2 85.6,215.2 85.6,216.4 86.5,216.4 86.5,217.7 87.3,217.7 87.3,218.9 87.7,218.9 88.3,218.9 88.3,219.6 89.7,219.6 89.7,220.2 90.3,220.2 91.1,220.2 91.1,221.6 92.6,221.6 92.6,223.0 93.4,223.0 93.6,223.0 93.6,224.2 94.1,224.2 94.1,225.3 94.5,225.3 94.5,226.5 94.7,226.5 95.2,226.5 95.2,228.1 96.0,228.1 96.0,229.6 96.5,229.6 97.0,229.6 97.0,231.2 97.9,231.2 97.9,232.8 98.4,232.8 99.2,232.8 99.2,234.1 100.0,234.1 109.1,234.1 109.3,234.1 109.3,235.5 109.8,235.5 109.8,237.0 110.2,237.0 110.2,238.4 110.4,238.4 111.0,238.4 111.0,239.5 112.1,239.5 112.1,240.7 113.2,240.7 113.2,241.8 113.7,241.8 114.3,241.8 114.3,242.9 115.4,242.9 115.4,244.0 116.5,244.0 116.5,245.1 117.1,245.1 117.6,245.1 117.6,246.2 118.8,246.2 118.8,247.4 119.9,247.4 119.9,248.5 120.4,248.5 121.0,248.5 121.0,249.1 122.1,249.1 122.1,249.6 123.2,249.6 123.2,250.2 123.8,250.2 124.3,250.2 124.3,251.2 125.4,251.2 125.4,252.3 125.9,252.3 126.3,252.3 126.3,253.4 127.2,253.4 127.2,254.4 127.6,254.4 138.0,254.4 138.4,254.4 138.4,255.8 139.3,255.8 139.3,257.1 139.7,257.1 146.6,257.1 146.8,257.1 146.8,258.6 147.1,258.6 147.1,260.0 147.3,260.0 147.3,261.5 147.5,261.5 154.4,261.5 154.6,261.5 154.6,262.9 155.1,262.9 155.1,264.4 155.3,264.4 156.0,264.4 156.0,264.9 157.2,264.9 157.2,265.3 157.9,265.3 158.2,265.3 158.2,266.4 158.8,266.4 158.8,267.6 159.3,267.6 159.3,268.7 159.6,268.7 160.2,268.7 160.2,269.3 161.3,269.3 161.3,269.9 162.5,269.9 162.5,270.5 163.1,270.5 163.2,270.5 163.2,271.6 163.5,271.6 163.5,272.8 163.8,272.8 163.8,273.9 163.9,273.9 164.2,273.9 164.2,275.1 164.8,275.1 164.8,276.2 165.4,276.2 165.4,277.4 165.7,277.4 165.9,277.4 165.9,278.7 166.3,278.7 166.3,280.0 166.8,280.0 166.8,281.3 167.2,281.3 167.2,282.6 167.4,282.6 167.6,282.6 167.6,284.1 167.9,284.1 167.9,285.5 168.2,285.5 168.2,287.0 168.3,287.0 184.9,287.0 185.0,287.0 185.0,288.2 185.1,288.2 185.1,289.5 185.2,289.5 185.2,290.7 185.4,290.7 185.4,292.0 185.5,292.0 185.5,293.2 185.6,293.2 210.8,293.2" fill="none" stroke="#c80a28" stroke-width="1.4" stroke-linejoin="miter" stroke-linecap="butt"/>
<line x1="182.9" y1="310.2" x2="182.9" y2="313.0" stroke="#2fac40" stroke-width="1.3"/>
<line x1="190.7" y1="310.2" x2="190.7" y2="313.0" stroke="#2fac40" stroke-width="1.3"/>
<line x1="208.8" y1="310.2" x2="208.8" y2="313.0" stroke="#2fac40" stroke-width="1.3"/>
<line x1="230.4" y1="310.2" x2="230.4" y2="313.0" stroke="#2fac40" stroke-width="1.3"/>
<line x1="100.5" y1="281.9" x2="100.5" y2="284.5" stroke="#2fac40" stroke-width="1.4"/>
<line x1="106.0" y1="285.4" x2="106.0" y2="288.0" stroke="#2fac40" stroke-width="1.4"/>
<line x1="112.0" y1="288.9" x2="112.0" y2="291.5" stroke="#2fac40" stroke-width="1.4"/>
<line x1="118.0" y1="293.0" x2="118.0" y2="295.6" stroke="#2fac40" stroke-width="1.4"/>
<line x1="124.6" y1="295.5" x2="124.6" y2="298.1" stroke="#2fac40" stroke-width="1.4"/>
<line x1="130.0" y1="297.4" x2="130.0" y2="300.0" stroke="#2fac40" stroke-width="1.4"/>
<line x1="136.5" y1="299.4" x2="136.5" y2="302.0" stroke="#2fac40" stroke-width="1.4"/>
<line x1="141.0" y1="300.6" x2="141.0" y2="303.2" stroke="#2fac40" stroke-width="1.4"/>
<line x1="145.8" y1="301.4" x2="145.8" y2="304.0" stroke="#2fac40" stroke-width="1.4"/>
<line x1="151.0" y1="303.3" x2="151.0" y2="305.9" stroke="#2fac40" stroke-width="1.4"/>
<line x1="156.0" y1="304.2" x2="156.0" y2="306.8" stroke="#2fac40" stroke-width="1.4"/>
<line x1="160.5" y1="305.3" x2="160.5" y2="307.9" stroke="#2fac40" stroke-width="1.4"/>
<line x1="165.0" y1="305.9" x2="165.0" y2="308.5" stroke="#2fac40" stroke-width="1.4"/>
<line x1="169.0" y1="306.6" x2="169.0" y2="309.2" stroke="#2fac40" stroke-width="1.4"/>
<line x1="172.5" y1="307.8" x2="172.5" y2="310.4" stroke="#2fac40" stroke-width="1.4"/>
<line x1="121.0" y1="278.6" x2="121.0" y2="281.4" stroke="#1a5590" stroke-width="1.3"/>
<line x1="124.4" y1="278.6" x2="124.4" y2="281.4" stroke="#1a5590" stroke-width="1.3"/>
<line x1="127.0" y1="278.6" x2="127.0" y2="281.4" stroke="#1a5590" stroke-width="1.3"/>
<line x1="142.6" y1="290.0" x2="142.6" y2="292.8" stroke="#1a5590" stroke-width="1.3"/>
<line x1="148.6" y1="290.0" x2="148.6" y2="292.8" stroke="#1a5590" stroke-width="1.3"/>
<line x1="153.5" y1="290.0" x2="153.5" y2="292.8" stroke="#1a5590" stroke-width="1.3"/>
<line x1="130.2" y1="253.0" x2="130.2" y2="255.8" stroke="#c80a28" stroke-width="1.3"/>
<line x1="132.8" y1="253.0" x2="132.8" y2="255.8" stroke="#c80a28" stroke-width="1.3"/>
<line x1="135.4" y1="253.0" x2="135.4" y2="255.8" stroke="#c80a28" stroke-width="1.3"/>
<line x1="143.2" y1="255.7" x2="143.2" y2="258.5" stroke="#c80a28" stroke-width="1.3"/>
<line x1="145.8" y1="255.7" x2="145.8" y2="258.5" stroke="#c80a28" stroke-width="1.3"/>
<line x1="179.5" y1="285.6" x2="179.5" y2="288.4" stroke="#c80a28" stroke-width="1.3"/>
<line x1="194.2" y1="291.8" x2="194.2" y2="294.6" stroke="#c80a28" stroke-width="1.3"/>
<line x1="205.4" y1="291.8" x2="205.4" y2="294.6" stroke="#c80a28" stroke-width="1.3"/>
<line x1="210.6" y1="291.8" x2="210.6" y2="294.6" stroke="#c80a28" stroke-width="1.3"/>
<text x="272.6" y="205.9" font-size="11.0" text-anchor="start" font-weight="bold" fill="#000" stroke="#000" stroke-width="0.5">D</text>
<line x1="305.6" y1="208.2" x2="305.6" y2="325.6" stroke="#000" stroke-width="1.5"/>
<line x1="304.9" y1="324.9" x2="500.3" y2="324.9" stroke="#000" stroke-width="1.5"/>
<line x1="303.6" y1="214.1" x2="305.6" y2="214.1" stroke="#000" stroke-width="1.1"/>
<text x="300.1" y="216.6" font-size="6.0" text-anchor="end" font-weight="normal" fill="#111" stroke="#111" stroke-width="0.15">1.0</text>
<line x1="303.6" y1="229.4" x2="305.6" y2="229.4" stroke="#000" stroke-width="1.1"/>
<text x="300.1" y="232.0" font-size="6.0" text-anchor="end" font-weight="normal" fill="#111" stroke="#111" stroke-width="0.15">0.9</text>
<line x1="303.6" y1="244.6" x2="305.6" y2="244.6" stroke="#000" stroke-width="1.1"/>
<text x="300.1" y="247.2" font-size="6.0" text-anchor="end" font-weight="normal" fill="#111" stroke="#111" stroke-width="0.15">0.8</text>
<line x1="303.6" y1="259.9" x2="305.6" y2="259.9" stroke="#000" stroke-width="1.1"/>
<text x="300.1" y="262.0" font-size="6.0" text-anchor="end" font-weight="normal" fill="#111" stroke="#111" stroke-width="0.15">0.7</text>
<line x1="303.6" y1="275.1" x2="305.6" y2="275.1" stroke="#000" stroke-width="1.1"/>
<text x="300.1" y="277.7" font-size="6.0" text-anchor="end" font-weight="normal" fill="#111" stroke="#111" stroke-width="0.15">0.6</text>
<line x1="303.6" y1="290.4" x2="305.6" y2="290.4" stroke="#000" stroke-width="1.1"/>
<text x="300.1" y="292.8" font-size="6.0" text-anchor="end" font-weight="normal" fill="#111" stroke="#111" stroke-width="0.15">0.5</text>
<line x1="303.6" y1="305.7" x2="305.6" y2="305.7" stroke="#000" stroke-width="1.1"/>
<text x="300.1" y="307.8" font-size="6.0" text-anchor="end" font-weight="normal" fill="#111" stroke="#111" stroke-width="0.15">0.4</text>
<line x1="303.6" y1="320.9" x2="305.6" y2="320.9" stroke="#000" stroke-width="1.1"/>
<text x="300.1" y="321.3" font-size="6.0" text-anchor="end" font-weight="normal" fill="#111" stroke="#111" stroke-width="0.15">0.3</text>
<line x1="310.6" y1="324.9" x2="310.6" y2="326.9" stroke="#000" stroke-width="1.1"/>
<line x1="327.9" y1="324.9" x2="327.9" y2="326.9" stroke="#000" stroke-width="1.1"/>
<line x1="345.4" y1="324.9" x2="345.4" y2="326.9" stroke="#000" stroke-width="1.1"/>
<line x1="362.3" y1="324.9" x2="362.3" y2="326.9" stroke="#000" stroke-width="1.1"/>
<line x1="379.6" y1="324.9" x2="379.6" y2="326.9" stroke="#000" stroke-width="1.1"/>
<line x1="396.7" y1="324.9" x2="396.7" y2="326.9" stroke="#000" stroke-width="1.1"/>
<line x1="413.8" y1="324.9" x2="413.8" y2="326.9" stroke="#000" stroke-width="1.1"/>
<line x1="431.6" y1="324.9" x2="431.6" y2="326.9" stroke="#000" stroke-width="1.1"/>
<line x1="448.9" y1="324.9" x2="448.9" y2="326.9" stroke="#000" stroke-width="1.1"/>
<line x1="465.6" y1="324.9" x2="465.6" y2="326.9" stroke="#000" stroke-width="1.1"/>
<line x1="491.5" y1="324.9" x2="491.5" y2="326.9" stroke="#000" stroke-width="1.1"/>
<text x="311.0" y="332.1" font-size="5.6" text-anchor="middle" font-weight="normal" fill="#111" stroke="#111" stroke-width="0.12" textLength="7.6" lengthAdjust="spacingAndGlyphs">.00</text>
<text x="329.1" y="332.1" font-size="5.6" text-anchor="middle" font-weight="normal" fill="#111" stroke="#111" stroke-width="0.12" textLength="14.0" lengthAdjust="spacingAndGlyphs">24.00</text>
<text x="347.1" y="332.1" font-size="5.6" text-anchor="middle" font-weight="normal" fill="#111" stroke="#111" stroke-width="0.12" textLength="14.0" lengthAdjust="spacingAndGlyphs">48.00</text>
<text x="365.1" y="332.1" font-size="5.6" text-anchor="middle" font-weight="normal" fill="#111" stroke="#111" stroke-width="0.12" textLength="14.0" lengthAdjust="spacingAndGlyphs">72.00</text>
<text x="383.2" y="332.1" font-size="5.6" text-anchor="middle" font-weight="normal" fill="#111" stroke="#111" stroke-width="0.12" textLength="14.0" lengthAdjust="spacingAndGlyphs">96.00</text>
<text x="401.2" y="332.1" font-size="5.6" text-anchor="middle" font-weight="normal" fill="#111" stroke="#111" stroke-width="0.12" textLength="18.4" lengthAdjust="spacingAndGlyphs">120.00</text>
<text x="419.3" y="332.1" font-size="5.6" text-anchor="middle" font-weight="normal" fill="#111" stroke="#111" stroke-width="0.12" textLength="18.4" lengthAdjust="spacingAndGlyphs">144.00</text>
<text x="437.4" y="332.1" font-size="5.6" text-anchor="middle" font-weight="normal" fill="#111" stroke="#111" stroke-width="0.12" textLength="18.4" lengthAdjust="spacingAndGlyphs">168.00</text>
<text x="455.4" y="332.1" font-size="5.6" text-anchor="middle" font-weight="normal" fill="#111" stroke="#111" stroke-width="0.12" textLength="18.4" lengthAdjust="spacingAndGlyphs">192.00</text>
<text x="473.5" y="332.1" font-size="5.6" text-anchor="middle" font-weight="normal" fill="#111" stroke="#111" stroke-width="0.12" textLength="18.4" lengthAdjust="spacingAndGlyphs">216.00</text>
<text x="491.5" y="332.1" font-size="5.6" text-anchor="middle" font-weight="normal" fill="#111" stroke="#111" stroke-width="0.12" textLength="18.4" lengthAdjust="spacingAndGlyphs">240.00</text>
<text x="283.6" y="272.1" font-size="10.6" text-anchor="middle" font-weight="normal" fill="#111" textLength="65.2" lengthAdjust="spacingAndGlyphs" transform="rotate(-90 283.6 272.1)">Cumulative survival</text>
<text x="355.4" y="346.2" font-size="10.0" text-anchor="start" font-weight="normal" fill="#111" textLength="75.4" lengthAdjust="spacingAndGlyphs">Months from diagnosis</text>
<text x="450.0" y="247.0" font-size="6.7" text-anchor="start" font-weight="normal" fill="#111" stroke="#111" stroke-width="0.18" textLength="30.8" lengthAdjust="spacingAndGlyphs">SF3B1IWG</text>
<text x="450.0" y="254.1" font-size="6.7" text-anchor="start" font-weight="normal" fill="#111" stroke="#111" stroke-width="0.18" textLength="47.7" lengthAdjust="spacingAndGlyphs">SF3B1 MDS IWG</text>
<text x="450.0" y="262.9" font-size="6.7" text-anchor="start" font-weight="normal" fill="#111" stroke="#111" stroke-width="0.18" textLength="44.6" lengthAdjust="spacingAndGlyphs">SF3B1 MDS not</text>
<text x="450.0" y="270.6" font-size="6.7" text-anchor="start" font-weight="normal" fill="#111" stroke="#111" stroke-width="0.18" textLength="61.5" lengthAdjust="spacingAndGlyphs">meeting IWG  criteria</text>
<text x="450.0" y="278.2" font-size="6.7" text-anchor="start" font-weight="normal" fill="#111" stroke="#111" stroke-width="0.18" textLength="46.2" lengthAdjust="spacingAndGlyphs">non SF3B1 MDS</text>
<text x="449.1" y="284.3" font-size="6.7" text-anchor="start" font-weight="normal" fill="#111" stroke="#111" stroke-width="0.18" textLength="28.7" lengthAdjust="spacingAndGlyphs">-censored</text>
<text x="449.1" y="290.7" font-size="6.7" text-anchor="start" font-weight="normal" fill="#111" stroke="#111" stroke-width="0.18" textLength="28.7" lengthAdjust="spacingAndGlyphs">-censored</text>
<text x="449.1" y="296.4" font-size="6.7" text-anchor="start" font-weight="normal" fill="#111" stroke="#111" stroke-width="0.18" textLength="28.7" lengthAdjust="spacingAndGlyphs">-censored</text>
<path d="M443.1,253.0 H445.0 Q445.9,253.0 445.9,252.2 Q445.9,251.5 446.8,251.5 H447.8 Q448.5,251.5 448.5,253.3" fill="none" stroke="#c80a28" stroke-width="1.5" stroke-linejoin="miter"/>
<path d="M443.1,261.1 H445.0 Q445.9,261.1 445.9,260.4 Q445.9,259.6 446.8,259.6 H447.8 Q448.5,259.6 448.5,261.4" fill="none" stroke="#1a5590" stroke-width="1.5" stroke-linejoin="miter"/>
<path d="M443.1,277.7 H445.0 Q445.9,277.7 445.9,276.9 Q445.9,276.2 446.8,276.2 H447.8 Q448.5,276.2 448.5,278.0" fill="none" stroke="#2fac40" stroke-width="1.5" stroke-linejoin="miter"/>
<line x1="443.1" y1="282.5" x2="448.6" y2="282.5" stroke="#c80a28" stroke-width="1.2"/>
<line x1="445.9" y1="280.7" x2="445.9" y2="284.3" stroke="#c80a28" stroke-width="1.3"/>
<line x1="443.1" y1="289.0" x2="448.6" y2="289.0" stroke="#1a5590" stroke-width="1.2"/>
<line x1="445.9" y1="287.2" x2="445.9" y2="290.8" stroke="#1a5590" stroke-width="1.3"/>
<line x1="443.1" y1="295.0" x2="448.6" y2="295.0" stroke="#2fac40" stroke-width="1.2"/>
<line x1="445.9" y1="293.2" x2="445.9" y2="296.8" stroke="#2fac40" stroke-width="1.3"/>
<polyline points="315.1,214.5 315.1,234.4 315.3,234.4 315.3,235.7 315.7,235.7 315.7,236.9 315.9,236.9 316.1,236.9 316.1,238.1 316.6,238.1 316.6,239.3 317.1,239.3 317.1,240.4 317.6,240.4 317.6,241.6 318.1,241.6 318.1,242.8 318.4,242.8 318.7,242.8 318.7,244.2 319.3,244.2 319.3,245.7 320.0,245.7 320.0,247.2 320.6,247.2 320.6,248.6 320.9,248.6 321.1,248.6 321.1,249.9 321.5,249.9 321.5,251.1 322.0,251.1 322.0,252.4 322.4,252.4 322.4,253.7 322.6,253.7 322.9,253.7 322.9,254.9 323.5,254.9 323.5,256.2 324.2,256.2 324.2,257.4 324.8,257.4 324.8,258.7 325.1,258.7 325.5,258.7 325.5,260.0 326.2,260.0 326.2,261.2 326.9,261.2 326.9,262.5 327.6,262.5 327.6,263.7 328.2,263.7 328.2,265.0 328.6,265.0 329.2,265.0 329.2,266.3 330.5,266.3 330.5,267.7 331.7,267.7 331.7,269.0 332.3,269.0 332.9,269.0 332.9,270.3 334.2,270.3 334.2,271.6 335.6,271.6 335.6,272.9 336.9,272.9 336.9,274.2 337.5,274.2 338.1,274.2 338.1,275.5 339.4,275.5 339.4,276.8 340.8,276.8 340.8,278.1 342.1,278.1 342.1,279.4 342.7,279.4 343.3,279.4 343.3,280.5 344.6,280.5 344.6,281.5 345.9,281.5 345.9,282.6 347.2,282.6 347.2,283.7 347.9,283.7 348.5,283.7 348.5,284.6 349.7,284.6 349.7,285.5 350.9,285.5 350.9,286.3 352.1,286.3 352.1,287.2 353.3,287.2 353.3,288.1 353.9,288.1 354.5,288.1 354.5,289.1 355.7,289.1 355.7,290.2 356.9,290.2 356.9,291.2 358.2,291.2 358.2,292.3 359.4,292.3 359.4,293.3 360.0,293.3 360.7,293.3 360.7,294.0 362.1,294.0 362.1,294.7 363.4,294.7 363.4,295.3 364.8,295.3 364.8,296.0 366.2,296.0 366.2,296.7 366.9,296.7 367.6,296.7 367.6,297.4 369.0,297.4 369.0,298.1 370.4,298.1 370.4,298.8 371.7,298.8 371.7,299.5 373.1,299.5 373.1,300.2 373.8,300.2 374.5,300.2 374.5,300.7 375.9,300.7 375.9,301.2 377.2,301.2 377.2,301.8 378.6,301.8 378.6,302.3 380.0,302.3 380.0,302.8 380.7,302.8 381.4,302.8 381.4,303.5 382.9,303.5 382.9,304.1 384.3,304.1 384.3,304.8 385.0,304.8 385.5,304.8 385.5,306.1 386.6,306.1 386.6,307.3 387.1,307.3 387.6,307.3 387.6,308.4 388.7,308.4 388.7,309.5 389.2,309.5 389.8,309.5 389.8,309.6 391.0,309.6 391.0,309.7 392.2,309.7 392.2,309.8 393.4,309.8 393.4,309.8 394.7,309.8 394.7,309.9 395.9,309.9 395.9,310.0 397.1,310.0 397.1,310.1 397.7,310.1 398.2,310.1 398.2,310.9 399.3,310.9 399.3,311.6 399.8,311.6 400.5,311.6 400.5,311.8 401.9,311.8 401.9,312.0 403.3,312.0 403.3,312.2 404.0,312.2 404.3,312.2 404.3,313.2 404.8,313.2 404.8,314.3 405.1,314.3 405.8,314.3 405.8,314.5 407.1,314.5 407.1,314.8 408.4,314.8 408.4,315.0 409.7,315.0 409.7,315.2 410.4,315.2 410.8,315.2 410.8,316.6 411.7,316.6 411.7,318.1 412.1,318.1 488.9,318.1" fill="none" stroke="#2fac40" stroke-width="1.4" stroke-linejoin="miter" stroke-linecap="butt"/>
<polyline points="315.1,215.1 315.5,215.1 315.5,214.2 315.9,214.2 320.1,214.2 321.0,214.2 321.0,215.4 321.8,215.4 322.4,215.4 322.4,215.5 323.7,215.5 323.7,215.7 324.9,215.7 324.9,215.8 326.2,215.8 326.2,215.9 326.8,215.9 327.4,215.9 327.4,216.3 328.7,216.3 328.7,216.7 329.3,216.7 329.9,216.7 329.9,216.8 331.2,216.8 331.2,216.9 332.5,216.9 332.5,217.0 333.8,217.0 333.8,217.1 334.4,217.1 335.0,217.1 335.0,217.6 336.3,217.6 336.3,218.1 336.9,218.1 341.9,218.1 342.3,218.1 342.3,219.2 343.2,219.2 343.2,220.3 343.6,220.3 344.0,220.3 344.0,221.5 344.9,221.5 344.9,222.7 345.3,222.7 381.0,222.7 381.1,222.7 381.1,224.2 381.2,224.2 381.2,225.6 381.4,225.6 381.4,227.1 381.5,227.1 407.9,227.1 407.9,227.1 407.9,228.4 408.0,228.4 408.0,229.7 408.1,229.7 408.1,231.0 408.1,231.0 408.1,232.3 408.2,232.3 408.2,233.6 408.3,233.6 408.3,234.9 408.4,234.9 408.4,236.2 408.4,236.2 470.0,236.2" fill="none" stroke="#1a5590" stroke-width="1.4" stroke-linejoin="miter" stroke-linecap="butt"/>
<polyline points="315.1,215.1 315.1,221.8 315.9,221.8 315.9,222.6 316.7,222.6 317.0,222.6 317.0,223.7 317.5,223.7 317.5,224.9 318.1,224.9 318.1,226.0 318.4,226.0 319.0,226.0 319.0,226.6 320.1,226.6 320.1,227.1 321.2,227.1 321.2,227.7 321.8,227.7 322.2,227.7 322.2,228.9 323.1,228.9 323.1,230.2 323.5,230.2 323.6,230.2 323.6,231.6 323.9,231.6 323.9,233.0 324.2,233.0 324.2,234.4 324.3,234.4 324.7,234.4 324.7,235.7 325.6,235.7 325.6,236.9 326.0,236.9 326.4,236.9 326.4,238.2 327.3,238.2 327.3,239.4 327.7,239.4 328.3,239.4 328.3,240.2 329.6,240.2 329.6,241.1 330.2,241.1 330.8,241.1 330.8,241.9 332.1,241.9 332.1,242.8 332.7,242.8 333.3,242.8 333.3,244.1 334.6,244.1 334.6,245.3 335.2,245.3 341.1,245.3 341.4,245.3 341.4,246.4 342.0,246.4 342.0,247.5 342.5,247.5 342.5,248.6 342.8,248.6 343.4,248.6 343.4,249.3 344.7,249.3 344.7,250.0 345.3,250.0 345.6,250.0 345.6,251.2 346.1,251.2 346.1,252.5 346.7,252.5 346.7,253.7 347.0,253.7 347.7,253.7 347.7,254.1 349.1,254.1 349.1,254.6 350.4,254.6 350.4,255.0 351.1,255.0 351.7,255.0 351.7,256.2 352.8,256.2 352.8,257.5 353.9,257.5 353.9,258.7 354.5,258.7 355.4,258.7 355.4,260.2 356.2,260.2 366.9,260.2 366.9,265.0 442.6,265.0" fill="none" stroke="#c80a28" stroke-width="1.4" stroke-linejoin="miter" stroke-linecap="butt"/>
<line x1="415.7" y1="316.7" x2="415.7" y2="319.5" stroke="#2fac40" stroke-width="1.3"/>
<line x1="418.8" y1="316.7" x2="418.8" y2="319.5" stroke="#2fac40" stroke-width="1.3"/>
<line x1="422.0" y1="316.7" x2="422.0" y2="319.5" stroke="#2fac40" stroke-width="1.3"/>
<line x1="425.2" y1="316.7" x2="425.2" y2="319.5" stroke="#2fac40" stroke-width="1.3"/>
<line x1="429.4" y1="316.7" x2="429.4" y2="319.5" stroke="#2fac40" stroke-width="1.3"/>
<line x1="435.8" y1="316.7" x2="435.8" y2="319.5" stroke="#2fac40" stroke-width="1.3"/>
<line x1="441.1" y1="316.7" x2="441.1" y2="319.5" stroke="#2fac40" stroke-width="1.3"/>
<line x1="449.5" y1="316.7" x2="449.5" y2="319.5" stroke="#2fac40" stroke-width="1.3"/>
<line x1="471.7" y1="316.7" x2="471.7" y2="319.5" stroke="#2fac40" stroke-width="1.3"/>
<line x1="488.2" y1="316.7" x2="488.2" y2="319.5" stroke="#2fac40" stroke-width="1.3"/>
<line x1="345.0" y1="280.0" x2="345.0" y2="282.6" stroke="#2fac40" stroke-width="1.4"/>
<line x1="351.0" y1="284.7" x2="351.0" y2="287.3" stroke="#2fac40" stroke-width="1.4"/>
<line x1="357.0" y1="289.4" x2="357.0" y2="292.0" stroke="#2fac40" stroke-width="1.4"/>
<line x1="362.0" y1="293.0" x2="362.0" y2="295.6" stroke="#2fac40" stroke-width="1.4"/>
<line x1="367.0" y1="295.5" x2="367.0" y2="298.1" stroke="#2fac40" stroke-width="1.4"/>
<line x1="371.0" y1="297.5" x2="371.0" y2="300.1" stroke="#2fac40" stroke-width="1.4"/>
<line x1="375.0" y1="299.4" x2="375.0" y2="302.0" stroke="#2fac40" stroke-width="1.4"/>
<line x1="379.0" y1="300.9" x2="379.0" y2="303.5" stroke="#2fac40" stroke-width="1.4"/>
<line x1="383.0" y1="302.6" x2="383.0" y2="305.2" stroke="#2fac40" stroke-width="1.4"/>
<line x1="387.0" y1="305.9" x2="387.0" y2="308.5" stroke="#2fac40" stroke-width="1.4"/>
<line x1="391.0" y1="308.3" x2="391.0" y2="310.9" stroke="#2fac40" stroke-width="1.4"/>
<line x1="395.0" y1="308.6" x2="395.0" y2="311.2" stroke="#2fac40" stroke-width="1.4"/>
<line x1="399.0" y1="309.7" x2="399.0" y2="312.3" stroke="#2fac40" stroke-width="1.4"/>
<line x1="403.0" y1="310.8" x2="403.0" y2="313.4" stroke="#2fac40" stroke-width="1.4"/>
<line x1="407.0" y1="313.3" x2="407.0" y2="315.9" stroke="#2fac40" stroke-width="1.4"/>
<line x1="410.5" y1="314.1" x2="410.5" y2="316.7" stroke="#2fac40" stroke-width="1.4"/>
<line x1="412.4" y1="234.8" x2="412.4" y2="237.6" stroke="#1a5590" stroke-width="1.3"/>
<line x1="416.7" y1="234.8" x2="416.7" y2="237.6" stroke="#1a5590" stroke-width="1.3"/>
<line x1="418.4" y1="234.8" x2="418.4" y2="237.6" stroke="#1a5590" stroke-width="1.3"/>
<line x1="422.5" y1="234.8" x2="422.5" y2="237.6" stroke="#1a5590" stroke-width="1.3"/>
<line x1="425.4" y1="234.8" x2="425.4" y2="237.6" stroke="#1a5590" stroke-width="1.3"/>
<line x1="437.7" y1="234.8" x2="437.7" y2="237.6" stroke="#1a5590" stroke-width="1.3"/>
<line x1="445.6" y1="234.8" x2="445.6" y2="237.6" stroke="#1a5590" stroke-width="1.3"/>
<line x1="452.4" y1="234.8" x2="452.4" y2="237.6" stroke="#1a5590" stroke-width="1.3"/>
<line x1="463.2" y1="234.8" x2="463.2" y2="237.6" stroke="#1a5590" stroke-width="1.3"/>
<line x1="469.0" y1="234.8" x2="469.0" y2="237.6" stroke="#1a5590" stroke-width="1.3"/>
<line x1="350.0" y1="221.3" x2="350.0" y2="224.1" stroke="#1a5590" stroke-width="1.3"/>
<line x1="353.0" y1="221.3" x2="353.0" y2="224.1" stroke="#1a5590" stroke-width="1.3"/>
<line x1="356.0" y1="221.3" x2="356.0" y2="224.1" stroke="#1a5590" stroke-width="1.3"/>
<line x1="360.0" y1="221.3" x2="360.0" y2="224.1" stroke="#1a5590" stroke-width="1.3"/>
<line x1="363.0" y1="221.3" x2="363.0" y2="224.1" stroke="#1a5590" stroke-width="1.3"/>
<line x1="366.0" y1="221.3" x2="366.0" y2="224.1" stroke="#1a5590" stroke-width="1.3"/>
<line x1="370.0" y1="221.3" x2="370.0" y2="224.1" stroke="#1a5590" stroke-width="1.3"/>
<line x1="373.0" y1="221.3" x2="373.0" y2="224.1" stroke="#1a5590" stroke-width="1.3"/>
<line x1="376.0" y1="221.3" x2="376.0" y2="224.1" stroke="#1a5590" stroke-width="1.3"/>
<line x1="385.0" y1="225.7" x2="385.0" y2="228.5" stroke="#1a5590" stroke-width="1.3"/>
<line x1="389.0" y1="225.7" x2="389.0" y2="228.5" stroke="#1a5590" stroke-width="1.3"/>
<line x1="392.0" y1="225.7" x2="392.0" y2="228.5" stroke="#1a5590" stroke-width="1.3"/>
<line x1="395.0" y1="225.7" x2="395.0" y2="228.5" stroke="#1a5590" stroke-width="1.3"/>
<line x1="398.0" y1="225.7" x2="398.0" y2="228.5" stroke="#1a5590" stroke-width="1.3"/>
<line x1="401.0" y1="225.7" x2="401.0" y2="228.5" stroke="#1a5590" stroke-width="1.3"/>
<line x1="404.0" y1="225.7" x2="404.0" y2="228.5" stroke="#1a5590" stroke-width="1.3"/>
<line x1="370.4" y1="263.6" x2="370.4" y2="266.4" stroke="#c80a28" stroke-width="1.3"/>
<line x1="371.9" y1="263.6" x2="371.9" y2="266.4" stroke="#c80a28" stroke-width="1.3"/>
<line x1="373.5" y1="263.6" x2="373.5" y2="266.4" stroke="#c80a28" stroke-width="1.3"/>
<line x1="375.0" y1="263.6" x2="375.0" y2="266.4" stroke="#c80a28" stroke-width="1.3"/>
<line x1="376.5" y1="263.6" x2="376.5" y2="266.4" stroke="#c80a28" stroke-width="1.3"/>
<line x1="378.1" y1="263.6" x2="378.1" y2="266.4" stroke="#c80a28" stroke-width="1.3"/>
<line x1="379.6" y1="263.6" x2="379.6" y2="266.4" stroke="#c80a28" stroke-width="1.3"/>
<line x1="381.9" y1="263.6" x2="381.9" y2="266.4" stroke="#c80a28" stroke-width="1.3"/>
<line x1="384.2" y1="263.6" x2="384.2" y2="266.4" stroke="#c80a28" stroke-width="1.3"/>
<line x1="389.6" y1="263.6" x2="389.6" y2="266.4" stroke="#c80a28" stroke-width="1.3"/>
<line x1="390.4" y1="263.6" x2="390.4" y2="266.4" stroke="#c80a28" stroke-width="1.3"/>
<line x1="391.2" y1="263.6" x2="391.2" y2="266.4" stroke="#c80a28" stroke-width="1.3"/>
<line x1="395.8" y1="263.6" x2="395.8" y2="266.4" stroke="#c80a28" stroke-width="1.3"/>
<line x1="401.2" y1="263.6" x2="401.2" y2="266.4" stroke="#c80a28" stroke-width="1.3"/>
<line x1="407.3" y1="263.6" x2="407.3" y2="266.4" stroke="#c80a28" stroke-width="1.3"/>
<line x1="412.7" y1="263.6" x2="412.7" y2="266.4" stroke="#c80a28" stroke-width="1.3"/>
<line x1="414.2" y1="263.6" x2="414.2" y2="266.4" stroke="#c80a28" stroke-width="1.3"/>
<line x1="416.5" y1="263.6" x2="416.5" y2="266.4" stroke="#c80a28" stroke-width="1.3"/>
<line x1="442.6" y1="263.6" x2="442.6" y2="266.4" stroke="#c80a28" stroke-width="1.3"/>
</g>
<rect x="0" y="0" width="520" height="1.2" fill="#000"/>
<rect x="0" y="0" width="1.5" height="358" fill="#000"/>
<rect x="518.2" y="0" width="1.8" height="358" fill="#000"/>
<rect x="0" y="356.2" width="520" height="1.8" fill="#000"/>
</svg></body></html>
